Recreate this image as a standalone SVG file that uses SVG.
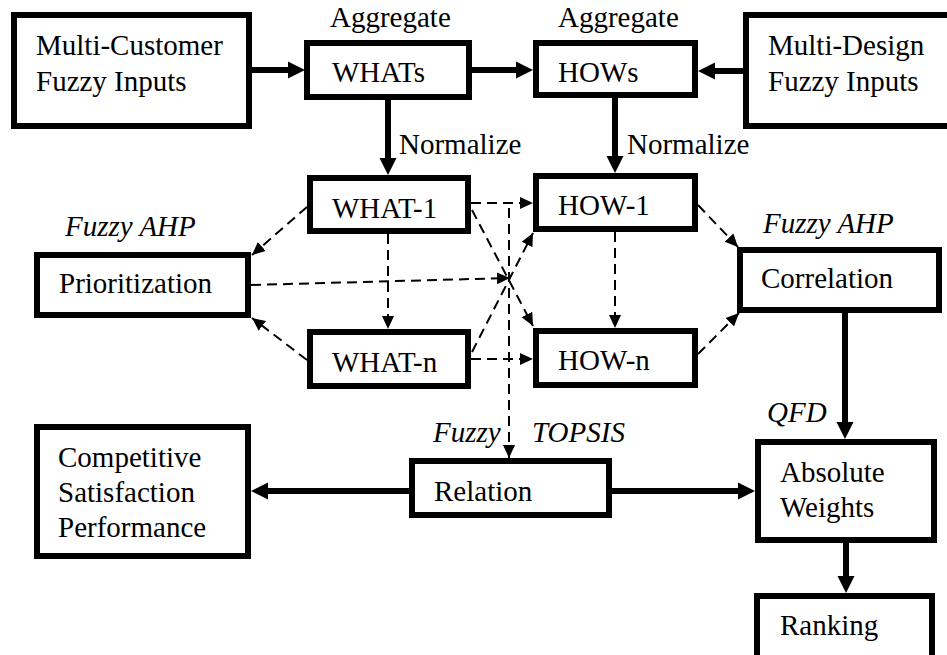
<svg xmlns="http://www.w3.org/2000/svg" width="947" height="655" viewBox="0 0 947 655" font-family="Liberation Serif, Times New Roman, serif" font-size="29">
<style>
.box{fill:#fff;stroke:#000;stroke-width:6}
text{font-family:"Liberation Serif","Times New Roman",serif;font-size:29px;fill:#000}
.i{font-style:italic}
.solid{stroke:#000;stroke-width:6;fill:none;marker-end:url(#ah)}
.dash{stroke:#000;stroke-width:2;fill:none;stroke-dasharray:10,6;marker-end:url(#dh)}
</style>
<defs>
<marker id="ah" markerUnits="userSpaceOnUse" markerWidth="18" markerHeight="18" refX="0" refY="9" orient="auto"><path d="M0,0.5 L17,9 L0,17.5 Z" fill="#000"/></marker>
<marker id="dh" markerUnits="userSpaceOnUse" markerWidth="14" markerHeight="14" refX="13" refY="6.5" orient="auto"><path d="M0,0.5 L13,6.5 L0,12.5 Z" fill="#000"/></marker>
</defs>
<rect width="947" height="655" fill="#fff"/>
<g id="connectors">
<line class="solid" x1="252" y1="70" x2="288" y2="70"/>
<line class="solid" x1="472" y1="70" x2="516" y2="70"/>
<line class="solid" x1="743" y1="71" x2="715" y2="71"/>
<line class="solid" x1="388" y1="100" x2="388" y2="158"/>
<line class="solid" x1="615" y1="96" x2="615" y2="156"/>
<line class="solid" x1="845" y1="313" x2="845" y2="422"/>
<line class="solid" x1="409" y1="491" x2="268" y2="491"/>
<line class="solid" x1="612" y1="491" x2="738" y2="491"/>
<line class="solid" x1="846" y1="543" x2="846" y2="576"/>
<line class="dash" x1="307" y1="207" x2="252" y2="255"/>
<line class="dash" x1="307" y1="360" x2="252" y2="318"/>
<line class="dash" x1="251" y1="285" x2="510" y2="278"/>
<line class="dash" x1="388" y1="234" x2="388" y2="329"/>
<line class="dash" x1="471" y1="203" x2="533" y2="203"/>
<line class="dash" x1="472" y1="210" x2="533" y2="326"/>
<line class="dash" x1="472" y1="352" x2="533" y2="233"/>
<line class="dash" x1="471" y1="359" x2="533" y2="359"/>
<line class="dash" x1="509" y1="208" x2="509" y2="458"/>
<line class="dash" x1="615" y1="232" x2="615" y2="328"/>
<line class="dash" x1="698" y1="205" x2="738" y2="247"/>
<line class="dash" x1="698" y1="354" x2="739" y2="313"/>
</g>
<g id="multi-customer"><rect class="box" x="14" y="15" width="235" height="111"/><text x="36" y="55">Multi-Customer</text><text x="36" y="91">Fuzzy Inputs</text></g>
<g id="whats"><text x="330" y="27">Aggregate</text><rect class="box" x="307" y="43" width="162" height="54"/><text x="332" y="82">WHATs</text></g>
<g id="hows"><text x="558" y="27">Aggregate</text><rect class="box" x="536" y="43" width="159" height="52"/><text x="558" y="82">HOWs</text></g>
<g id="multi-design"><rect class="box" x="746" y="15" width="210" height="111"/><text x="768" y="55">Multi-Design</text><text x="768" y="91">Fuzzy Inputs</text></g>
<g id="normalize-labels"><text x="399" y="154">Normalize</text><text x="627" y="154">Normalize</text></g>
<g id="what-1"><rect class="box" x="310" y="178" width="158" height="53"/><text x="332" y="218">WHAT-1</text></g>
<g id="what-n"><rect class="box" x="310" y="332" width="158" height="54"/><text x="332" y="372">WHAT-n</text></g>
<g id="how-1"><rect class="box" x="536" y="176" width="159" height="53"/><text x="558" y="215">HOW-1</text></g>
<g id="how-n"><rect class="box" x="536" y="331" width="159" height="54"/><text x="558" y="370">HOW-n</text></g>
<g id="prioritization"><text class="i" x="65" y="236">Fuzzy AHP</text><rect class="box" x="37" y="255" width="211" height="60"/><text x="59" y="293">Prioritization</text></g>
<g id="correlation"><text class="i" x="763" y="233">Fuzzy AHP</text><rect class="box" x="740" y="250" width="199" height="60"/><text x="761" y="288">Correlation</text></g>
<g id="competitive"><rect class="box" x="37" y="427" width="211" height="129"/><text x="58" y="467">Competitive</text><text x="58" y="502">Satisfaction</text><text x="58" y="537">Performance</text></g>
<g id="relation"><text class="i" x="433" y="442">Fuzzy</text><text class="i" x="532" y="442">TOPSIS</text><rect class="box" x="412" y="461" width="197" height="54"/><text x="434" y="501">Relation</text></g>
<g id="absolute-weights"><text class="i" x="767" y="422">QFD</text><rect class="box" x="758" y="442" width="176" height="98"/><text x="780" y="482">Absolute</text><text x="780" y="517">Weights</text></g>
<g id="ranking"><rect class="box" x="757" y="596" width="175" height="70"/><text x="780" y="635">Ranking</text></g>
</svg>
